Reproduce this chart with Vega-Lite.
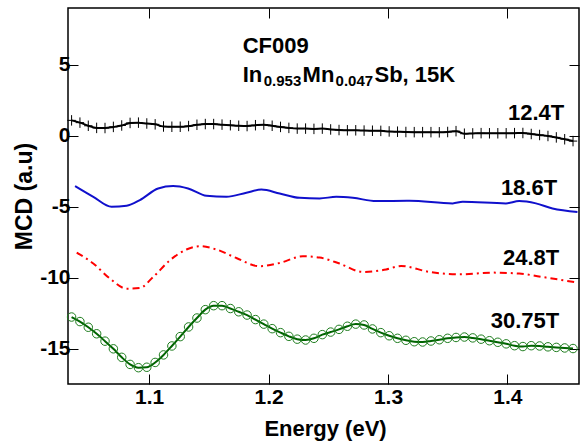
{
  "$schema": "https://vega.github.io/schema/vega-lite/v6.json",
  "width": 511,
  "height": 376,
  "autosize": "none",
  "padding": {"left": 68, "top": 8, "right": 1, "bottom": 57},
  "background": "white",
  "config": {
    "view": {"stroke": "black", "strokeWidth": 1.5},
    "font": "Liberation Sans",
    "axis": {
      "grid": false,
      "domain": false,
      "tickSize": -10,
      "tickColor": "black",
      "tickWidth": 1,
      "labelFont": "Liberation Sans",
      "labelFontWeight": "bold",
      "labelFontSize": 21,
      "labelColor": "black",
      "titleFont": "Liberation Sans",
      "titleFontWeight": "bold",
      "titleFontSize": 22,
      "titleColor": "black"
    }
  },
  "datasets": {
    "b124": [
      {"E":1.035,"MCD":1.08},{"E":1.042,"MCD":0.92},{"E":1.049,"MCD":0.70},{"E":1.056,"MCD":0.55},{"E":1.063,"MCD":0.54},
      {"E":1.070,"MCD":0.62},{"E":1.077,"MCD":0.72},{"E":1.084,"MCD":0.90},{"E":1.091,"MCD":0.92},{"E":1.098,"MCD":0.86},
      {"E":1.105,"MCD":0.80},{"E":1.112,"MCD":0.65},{"E":1.119,"MCD":0.63},{"E":1.126,"MCD":0.63},{"E":1.133,"MCD":0.68},
      {"E":1.140,"MCD":0.77},{"E":1.147,"MCD":0.82},{"E":1.154,"MCD":0.82},{"E":1.161,"MCD":0.78},{"E":1.168,"MCD":0.74},
      {"E":1.175,"MCD":0.70},{"E":1.182,"MCD":0.68},{"E":1.189,"MCD":0.74},{"E":1.196,"MCD":0.78},{"E":1.203,"MCD":0.70},
      {"E":1.210,"MCD":0.62},{"E":1.217,"MCD":0.55},{"E":1.224,"MCD":0.50},{"E":1.231,"MCD":0.50},{"E":1.238,"MCD":0.48},
      {"E":1.245,"MCD":0.50},{"E":1.252,"MCD":0.44},{"E":1.259,"MCD":0.40},{"E":1.266,"MCD":0.38},{"E":1.273,"MCD":0.38},
      {"E":1.280,"MCD":0.36},{"E":1.287,"MCD":0.35},{"E":1.294,"MCD":0.34},{"E":1.301,"MCD":0.30},{"E":1.308,"MCD":0.28},
      {"E":1.315,"MCD":0.26},{"E":1.322,"MCD":0.25},{"E":1.329,"MCD":0.25},{"E":1.336,"MCD":0.25},{"E":1.343,"MCD":0.24},
      {"E":1.350,"MCD":0.26},{"E":1.357,"MCD":0.32},{"E":1.364,"MCD":0.14},{"E":1.371,"MCD":0.16},{"E":1.378,"MCD":0.18},
      {"E":1.385,"MCD":0.17},{"E":1.392,"MCD":0.17},{"E":1.399,"MCD":0.17},{"E":1.406,"MCD":0.18},{"E":1.413,"MCD":0.19},
      {"E":1.420,"MCD":0.12},{"E":1.427,"MCD":0.05},{"E":1.434,"MCD":-0.02},{"E":1.441,"MCD":-0.12},{"E":1.448,"MCD":-0.25},
      {"E":1.455,"MCD":-0.38}
    ],
    "b186": [
      {"E":1.0379,"MCD":-3.55},{"E":1.0532,"MCD":-4.31},{"E":1.0685,"MCD":-5.01},{"E":1.0811,"MCD":-4.94},{"E":1.0922,"MCD":-4.54},
      {"E":1.1075,"MCD":-3.72},{"E":1.12,"MCD":-3.55},{"E":1.1326,"MCD":-3.72},{"E":1.148,"MCD":-4.24},{"E":1.1647,"MCD":-4.31},
      {"E":1.1814,"MCD":-4.02},{"E":1.194,"MCD":-3.8},{"E":1.2093,"MCD":-4.07},{"E":1.226,"MCD":-4.38},{"E":1.2427,"MCD":-4.42},
      {"E":1.2567,"MCD":-4.31},{"E":1.2706,"MCD":-4.38},{"E":1.2901,"MCD":-4.61},{"E":1.318,"MCD":-4.59},{"E":1.3542,"MCD":-4.77},
      {"E":1.3626,"MCD":-4.66},{"E":1.3988,"MCD":-4.77},{"E":1.4099,"MCD":-4.61},{"E":1.4239,"MCD":-4.77},{"E":1.4378,"MCD":-5.13},
      {"E":1.4587,"MCD":-5.37}
    ],
    "b248": [
      {"E":1.0393,"MCD":-8.24},{"E":1.0532,"MCD":-9.01},{"E":1.0671,"MCD":-10.07},{"E":1.0811,"MCD":-10.78},{"E":1.0922,"MCD":-10.73},
      {"E":1.1033,"MCD":-9.96},{"E":1.1173,"MCD":-8.78},{"E":1.1312,"MCD":-8.02},{"E":1.1424,"MCD":-7.79},{"E":1.1563,"MCD":-8.02},
      {"E":1.173,"MCD":-8.62},{"E":1.1925,"MCD":-9.2},{"E":1.2093,"MCD":-8.97},{"E":1.2287,"MCD":-8.5},{"E":1.2427,"MCD":-8.59},
      {"E":1.2594,"MCD":-9.01},{"E":1.2789,"MCD":-9.6},{"E":1.2985,"MCD":-9.43},{"E":1.311,"MCD":-9.18},{"E":1.3347,"MCD":-9.6},
      {"E":1.3598,"MCD":-9.77},{"E":1.3876,"MCD":-9.65},{"E":1.4099,"MCD":-9.72},{"E":1.4323,"MCD":-10.0},{"E":1.4587,"MCD":-10.35}
    ],
    "b3075": [
      {"E":1.035,"MCD":-12.78},{"E":1.042,"MCD":-13.10},{"E":1.049,"MCD":-13.50},{"E":1.056,"MCD":-13.96},{"E":1.063,"MCD":-14.48},
      {"E":1.070,"MCD":-15.02},{"E":1.077,"MCD":-15.62},{"E":1.084,"MCD":-16.12},{"E":1.091,"MCD":-16.35},{"E":1.098,"MCD":-16.32},
      {"E":1.105,"MCD":-15.98},{"E":1.112,"MCD":-15.45},{"E":1.119,"MCD":-14.82},{"E":1.126,"MCD":-14.16},{"E":1.133,"MCD":-13.48},
      {"E":1.140,"MCD":-12.85},{"E":1.147,"MCD":-12.26},{"E":1.154,"MCD":-11.98},{"E":1.161,"MCD":-11.98},{"E":1.168,"MCD":-12.18},
      {"E":1.175,"MCD":-12.41},{"E":1.182,"MCD":-12.64},{"E":1.189,"MCD":-12.96},{"E":1.196,"MCD":-13.28},{"E":1.203,"MCD":-13.60},
      {"E":1.210,"MCD":-13.88},{"E":1.217,"MCD":-14.14},{"E":1.224,"MCD":-14.34},{"E":1.231,"MCD":-14.40},{"E":1.238,"MCD":-14.28},
      {"E":1.245,"MCD":-14.02},{"E":1.252,"MCD":-13.84},{"E":1.259,"MCD":-13.65},{"E":1.266,"MCD":-13.43},{"E":1.273,"MCD":-13.28},
      {"E":1.280,"MCD":-13.34},{"E":1.287,"MCD":-13.62},{"E":1.294,"MCD":-13.88},{"E":1.301,"MCD":-14.10},{"E":1.308,"MCD":-14.28},
      {"E":1.315,"MCD":-14.42},{"E":1.322,"MCD":-14.52},{"E":1.329,"MCD":-14.54},{"E":1.336,"MCD":-14.47},{"E":1.343,"MCD":-14.38},
      {"E":1.350,"MCD":-14.28},{"E":1.357,"MCD":-14.22},{"E":1.364,"MCD":-14.19},{"E":1.371,"MCD":-14.25},{"E":1.378,"MCD":-14.34},
      {"E":1.385,"MCD":-14.45},{"E":1.392,"MCD":-14.56},{"E":1.399,"MCD":-14.67},{"E":1.406,"MCD":-14.80},{"E":1.413,"MCD":-14.86},
      {"E":1.420,"MCD":-14.80},{"E":1.427,"MCD":-14.82},{"E":1.434,"MCD":-14.88},{"E":1.441,"MCD":-14.92},{"E":1.448,"MCD":-14.96},
      {"E":1.455,"MCD":-15.00}
    ],
    "serieslabels": [
      {"E":1.4476,"MCD":1.11,"t":"12.4T"},
      {"E":1.4417,"MCD":-4.19,"t":"18.6T"},
      {"E":1.4434,"MCD":-9.13,"t":"24.8T"},
      {"E":1.4434,"MCD":-13.53,"t":"30.75T"}
    ],
    "maintext": [
      {"E":1.1783,"MCD":5.84,"t":"CF009"},
      {"E":1.1783,"MCD":3.81,"t":"In"},
      {"E":1.2285,"MCD":3.81,"t":"Mn"},
      {"E":1.2887,"MCD":3.81,"t":"Sb, 15K"}
    ],
    "subtext": [
      {"E":1.1959,"MCD":3.5,"t":"0.953"},
      {"E":1.2561,"MCD":3.5,"t":"0.047"}
    ]
  },
  "resolve": {"axis": {"x": "independent", "y": "independent"}},
  "layer": [
    {
      "data": {"name": "b186"},
      "mark": {"type": "line", "color": "#1010cc", "strokeWidth": 2, "interpolate": "monotone"},
      "encoding": {
        "x": {"field": "E", "type": "quantitative", "scale": {"domain": [1.032, 1.46], "nice": false, "zero": false},
              "axis": {"orient": "bottom", "values": [1.1, 1.2, 1.3, 1.4], "format": ".1f", "title": "Energy (eV)", "labelPadding": 12, "titleX": 257, "titleY": 51, "titleBaseline": "alphabetic"}},
        "y": {"field": "MCD", "type": "quantitative", "scale": {"domain": [-17.5, 9], "nice": false, "zero": false},
              "axis": {"orient": "left", "values": [-15, -10, -5, 0, 5], "labelExpr": "datum.value < 0 ? '-' + abs(datum.value) : '' + datum.value", "title": "MCD (a.u)", "labelPadding": 8, "titleX": -37, "titleY": 188, "titleBaseline": "alphabetic", "titleFontSize": 23}}
      }
    },
    {
      "data": {"name": "b248"},
      "mark": {"type": "line", "color": "#ff0000", "strokeWidth": 2, "interpolate": "monotone", "strokeDash": [7, 4, 2, 4]},
      "encoding": {
        "x": {"field": "E", "type": "quantitative", "scale": {"domain": [1.032, 1.46], "nice": false, "zero": false},
              "axis": {"orient": "top", "values": [1.1, 1.2, 1.3, 1.4], "labels": false, "title": null}},
        "y": {"field": "MCD", "type": "quantitative", "scale": {"domain": [-17.5, 9], "nice": false, "zero": false},
              "axis": {"orient": "right", "values": [-15, -10, -5, 0, 5], "labels": false, "title": null}}
      }
    },
    {
      "data": {"name": "b124"},
      "mark": {"type": "line", "color": "black", "strokeWidth": 2, "interpolate": "monotone"},
      "encoding": {
        "x": {"field": "E", "type": "quantitative", "scale": {"domain": [1.032, 1.46], "nice": false, "zero": false}, "axis": null},
        "y": {"field": "MCD", "type": "quantitative", "scale": {"domain": [-17.5, 9], "nice": false, "zero": false}, "axis": null}
      }
    },
    {
      "data": {"name": "b124"},
      "mark": {"type": "point", "shape": "M0,-1L0,1M-0.8,0L0.8,0", "size": 110, "filled": false, "stroke": "black", "strokeWidth": 1, "opacity": 1},
      "encoding": {
        "x": {"field": "E", "type": "quantitative", "scale": {"domain": [1.032, 1.46], "nice": false, "zero": false}, "axis": null},
        "y": {"field": "MCD", "type": "quantitative", "scale": {"domain": [-17.5, 9], "nice": false, "zero": false}, "axis": null}
      }
    },
    {
      "data": {"name": "b3075"},
      "mark": {"type": "line", "color": "#006400", "strokeWidth": 2, "interpolate": "monotone"},
      "encoding": {
        "x": {"field": "E", "type": "quantitative", "scale": {"domain": [1.032, 1.46], "nice": false, "zero": false}, "axis": null},
        "y": {"field": "MCD", "type": "quantitative", "scale": {"domain": [-17.5, 9], "nice": false, "zero": false}, "axis": null}
      }
    },
    {
      "data": {"name": "b3075"},
      "mark": {"type": "point", "shape": "circle", "size": 72, "filled": false, "stroke": "#1e7d1e", "strokeWidth": 1, "opacity": 1},
      "encoding": {
        "x": {"field": "E", "type": "quantitative", "scale": {"domain": [1.032, 1.46], "nice": false, "zero": false}, "axis": null},
        "y": {"field": "MCD", "type": "quantitative", "scale": {"domain": [-17.5, 9], "nice": false, "zero": false}, "axis": null}
      }
    },
    {
      "data": {"name": "serieslabels"},
      "mark": {"type": "text", "align": "right", "baseline": "alphabetic", "font": "Liberation Sans", "fontWeight": "bold", "fontSize": 22, "color": "black"},
      "encoding": {
        "x": {"field": "E", "type": "quantitative", "scale": {"domain": [1.032, 1.46], "nice": false, "zero": false}, "axis": null},
        "y": {"field": "MCD", "type": "quantitative", "scale": {"domain": [-17.5, 9], "nice": false, "zero": false}, "axis": null},
        "text": {"field": "t"}
      }
    },
    {
      "data": {"name": "maintext"},
      "mark": {"type": "text", "align": "left", "baseline": "alphabetic", "font": "Liberation Sans", "fontWeight": "bold", "fontSize": 22, "color": "black"},
      "encoding": {
        "x": {"field": "E", "type": "quantitative", "scale": {"domain": [1.032, 1.46], "nice": false, "zero": false}, "axis": null},
        "y": {"field": "MCD", "type": "quantitative", "scale": {"domain": [-17.5, 9], "nice": false, "zero": false}, "axis": null},
        "text": {"field": "t"}
      }
    },
    {
      "data": {"name": "subtext"},
      "mark": {"type": "text", "align": "left", "baseline": "alphabetic", "font": "Liberation Sans", "fontWeight": "bold", "fontSize": 15, "color": "black"},
      "encoding": {
        "x": {"field": "E", "type": "quantitative", "scale": {"domain": [1.032, 1.46], "nice": false, "zero": false}, "axis": null},
        "y": {"field": "MCD", "type": "quantitative", "scale": {"domain": [-17.5, 9], "nice": false, "zero": false}, "axis": null},
        "text": {"field": "t"}
      }
    }
  ]
}
